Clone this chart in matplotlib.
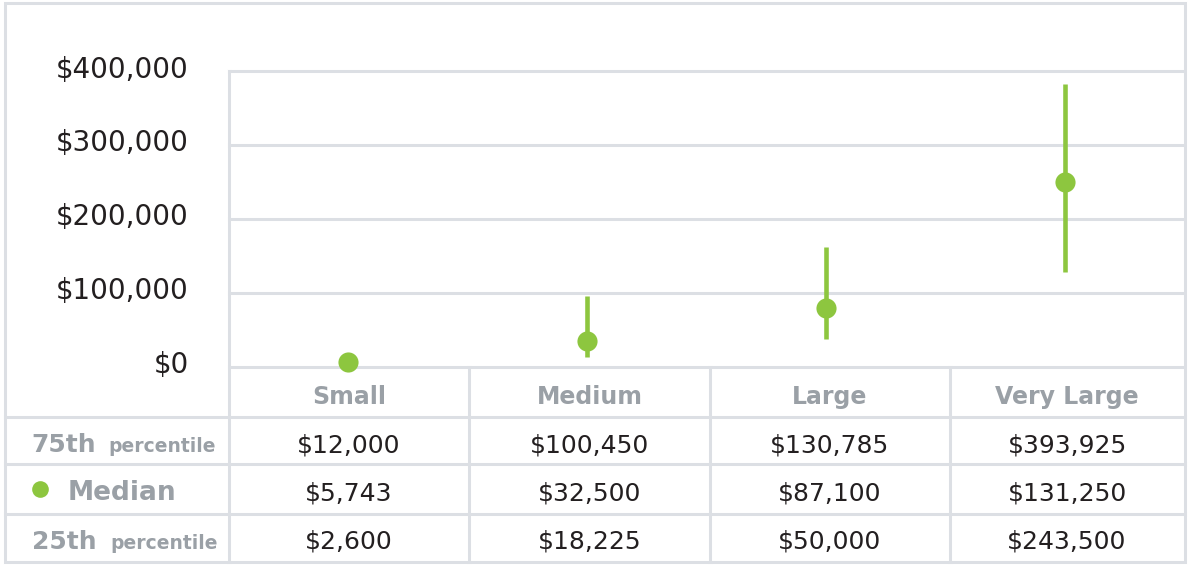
import matplotlib.pyplot as plt
import matplotlib.transforms as mtransforms
from matplotlib.patches import Rectangle

# Data
categories = ['Small', 'Medium', 'Large', 'Very Large']
# range marks as drawn on the chart
mark_low = [2600, 12700, 38000, 127700]
mark_mid = [5743, 35000, 80000, 250000]
mark_high = [12000, 96000, 162000, 382500]
# table values
p75 = [12000, 100450, 130785, 393925]
median = [5743, 32500, 87100, 131250]
p25 = [2600, 18225, 50000, 243500]
yticks = [0, 100000, 200000, 300000, 400000]

GREEN = '#8dc63f'
GRID = '#dcdfe4'
LABEL = '#9aa0a6'
DARK = '#231f20'
LW = 2.2

W, H = 1189, 566
fig = plt.figure(figsize=(W / 100, H / 100), dpi=100)

# overlay in pixel coordinates for the table and frame
bg = fig.add_axes([0, 0, 1, 1])
bg.set_xlim(0, W)
bg.set_ylim(H, 0)
bg.axis('off')

x0, x1 = 229, 1184
y_top, y_zero = 71, 366.7
ax = fig.add_axes([x0 / W, (H - y_zero) / H, (x1 - x0) / W, (y_zero - y_top) / H])
ax.set_facecolor('none')
ax.set_xlim(-0.5, len(categories) - 0.5)
ax.set_ylim(0, 400000)
ax.set_yticks(yticks)
ax.set_yticklabels(['${:,}'.format(v) for v in yticks])
ax.set_xticks([])
ax.tick_params(axis='y', length=0, pad=29, labelsize=20, labelcolor=DARK)
offset = mtransforms.ScaledTranslation(0, 4.5 / 100, fig.dpi_scale_trans)
for lab in ax.get_yticklabels():
    lab.set_transform(lab.get_transform() + offset)
for s in ax.spines.values():
    s.set_visible(False)
ax.grid(axis='y', color=GRID, linewidth=LW)
for gl in ax.get_ygridlines():
    gl.set_clip_on(False)
ax.set_axisbelow(True)

xs = range(len(categories))
ax.vlines(xs, mark_low, mark_high, color=GREEN, linewidth=3.3, zorder=3)
ax.plot(xs, mark_mid, 'o', color=GREEN, markersize=14.5, markeredgewidth=0,
        zorder=4, clip_on=False)

# frame and table lines
bg.add_patch(Rectangle((5, 3), 1180, 559, fill=False, edgecolor=GRID, linewidth=LW))
bg.plot([x0, x0], [y_top, 562], color=GRID, linewidth=LW)
col_edges = [469, 710, 950]
for xe in col_edges:
    bg.plot([xe, xe], [y_zero, 562], color=GRID, linewidth=LW)
row_lines = [417, 464, 514]
for yr in row_lines:
    bg.plot([5, 1185], [yr, yr], color=GRID, linewidth=LW)

# column centres in pixels
edges = [x0] + col_edges + [x1]
centres = [(edges[i] + edges[i + 1]) / 2 for i in range(len(categories))]

for c, name in zip(centres, categories):
    bg.text(c, 404, name, ha='center', va='baseline', fontsize=17,
            fontweight='bold', color=LABEL)

rows = [(p75, 452), (median, 500), (p25, 549)]
for vals, base in rows:
    for c, v in zip(centres, vals):
        bg.text(c, base, '${:,}'.format(v), ha='center', va='baseline',
                fontsize=18, color=DARK)

# row labels
bg.text(31, 452, '75th', fontsize=18, fontweight='bold', color=LABEL, va='baseline')
bg.text(108, 452, 'percentile', fontsize=13.5, fontweight='bold', color=LABEL, va='baseline')
bg.plot([40], [489], 'o', color=GREEN, markersize=12, markeredgewidth=0)
bg.text(68, 500, 'Median', fontsize=19, fontweight='bold', color=LABEL, va='baseline')
bg.text(32, 549, '25th', fontsize=18, fontweight='bold', color=LABEL, va='baseline')
bg.text(110, 549, 'percentile', fontsize=13.5, fontweight='bold', color=LABEL, va='baseline')

fig.savefig('out.png', dpi=100)
